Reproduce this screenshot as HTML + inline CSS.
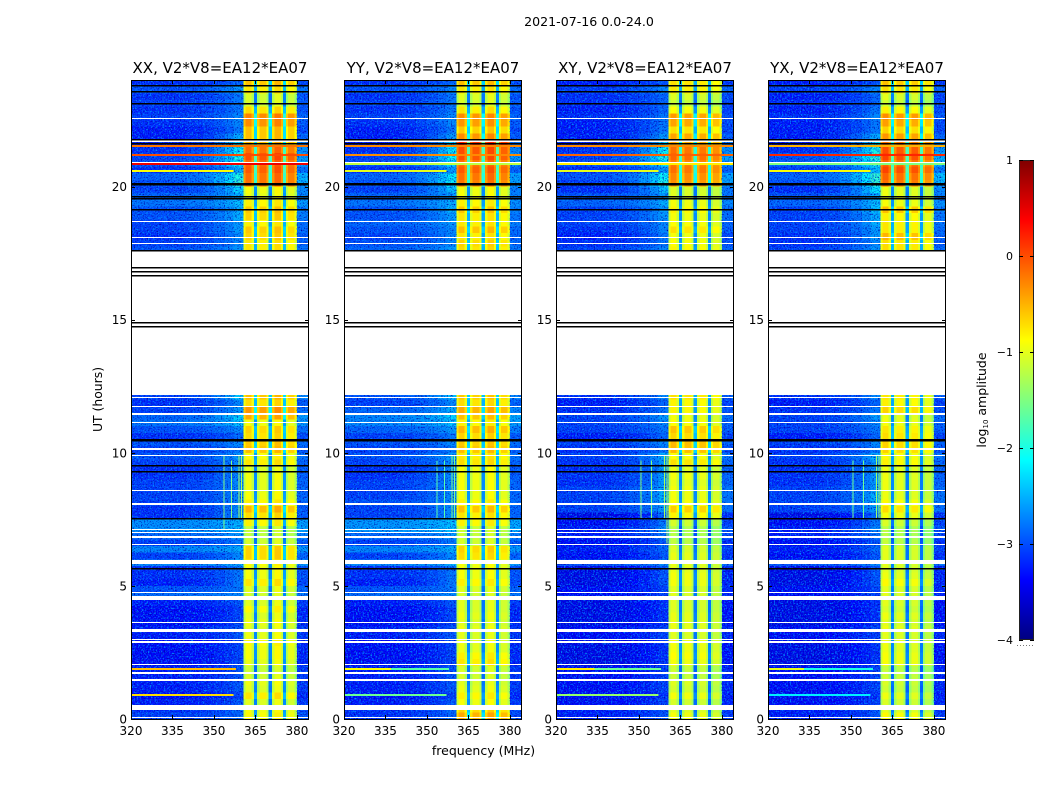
<!DOCTYPE html>
<html lang="en">
<head>
<meta charset="utf-8">
<title>2021-07-16 spectrogram</title>
<style>
html,body{margin:0;padding:0;background:#fff;width:1050px;height:800px;overflow:hidden}
svg{display:block}
text{font-family:"DejaVu Sans","Liberation Sans",sans-serif;fill:#000}
</style>
</head>
<body>
<svg id="figure" xmlns="http://www.w3.org/2000/svg" width="1050" height="800" viewBox="0 0 1050 800">
  <defs>
    <filter id="speckle" x="0" y="0" width="100%" height="100%" color-interpolation-filters="sRGB">
      <feTurbulence type="fractalNoise" baseFrequency="0.62" numOctaves="2" seed="4"/>
      <feColorMatrix type="matrix" values="0 0 0 0 0  0 0 0 0 0.55  0 0 0 0 1  3.4 0 0 0 -1.6"/>
    </filter>
    <filter id="speckle-dark" x="0" y="0" width="100%" height="100%" color-interpolation-filters="sRGB">
      <feTurbulence type="fractalNoise" baseFrequency="0.7" numOctaves="2" seed="11"/>
      <feColorMatrix type="matrix" values="0 0 0 0 0  0 0 0 0 0  0 0 0 0 0.65  3.4 0 0 0 -1.8"/>
    </filter>
  </defs>
  <text x="589" y="26" font-size="12.6" text-anchor="middle">2021-07-16 0.0-24.0</text>
  <text x="102" y="399.5" font-size="12.4" text-anchor="middle" transform="rotate(-90 102 399.5)">UT (hours)</text>
  <text x="483.5" y="755" font-size="12.5" text-anchor="middle">frequency (MHz)</text>
  <text x="986" y="400" font-size="12.5" text-anchor="middle" transform="rotate(-90 986 400)">log<tspan font-size="7" dy="2">10</tspan><tspan dy="-2"> amplitude</tspan></text>
  <g id="panels"></g>
  <g id="colorbar"></g>
</svg>
<script>
// ---- categories: start hour of each time row (UT) ----
const rowHours = [
0,0.25,0.5,0.75, 1,1.25,1.5,1.75, 2,2.25,2.5,2.75, 3,3.25,3.5,3.75,
4,4.25,4.5,4.75, 5,5.25,5.5,5.75, 6,6.25,6.5,6.75, 7,7.25,7.5,7.75,
8,8.25,8.5,8.75, 9,9.25,9.5,9.75, 10,10.25,10.5,10.75, 11,11.25,11.5,11.75, 12,
17.5,17.75, 18,18.25,18.5,18.75, 19,19.25,19.5,19.75,
20,20.25,20.5,20.75, 21,21.25,21.5,21.75, 22,22.25,22.5,22.75, 23,23.25,23.5,23.75];
const rowSpanHours = 0.25;

// ---- frequency categories (MHz) ----
const freqMin = 320;
const freqMax = 384;
const bgEdges = [320,340,346,350,354,357,360.6];
const bgNearWeight = [0,0.1,0.25,0.45,0.7,1];
const rightStrip = [380,384];
const rightStripWeight = 0.5;
const bandEdges = [360.6,361.4,363.6,364.4,365.6,366.4,369.0,369.8,371.0,371.8,374.2,375.0,376.0,376.8,379.2,380];
const bandProfile = [-0.45,-0.2,-0.45,-1.95,-0.45,-0.2,-0.45,-1.95,-0.45,-0.2,-0.45,-1.95,-0.45,-0.2,-0.45];

// ---- tick labels ----
const xTicks = [320,335,350,365,380];
const yTicks = [0,5,10,15,20];
const colorTicks = [1,0,-1,-2,-3,-4];
const colorTickLabels = ["1","0","\u22121","\u22122","\u22123","\u22124"];
const panelNames = ["XX","YY","XY","YX"];
const baselineName = "V2*V8=EA12*EA07";

// ---- series: far-band background level, log10 amplitude per time row ----
const farXX = [
-3.1,-3.2,-3.3,-3.4, -3.3,-3.3,-3.3,-3.3, -3.4,-3.4,-3.4,-3.4, -3.3,-3.3,-3.4,-3.4,
-3.4,-3.3,-2.85,-3.0, -3.3,-3.2,-3.2,-2.7, -3.1,-2.7,-3.1,-2.85, -2.65,-2.65,-3.2,-3.2,
-3.1,-3.1,-3.1,-3.1, -3.2,-3.2,-3.1,-3.0, -3.1,-3.0,-3.2,-3.0, -2.8,-2.9,-3.1,-3.2, -3.1,
-3.0,-3.1, -3.2,-3.1,-3.1,-3.0, -3.0,-2.8,-2.9,-3.1,
-3.0,-2.9,-3.2,-3.0, -3.1,-3.2,-3.3,-3.3, -3.3,-3.2,-3.1,-3.2, -3.1,-3.2,-3.0,-3.2];
const farYY = [
-3.2,-3.2,-3.3,-3.4, -3.3,-3.3,-3.3,-3.3, -3.4,-3.4,-3.4,-3.4, -3.3,-3.3,-3.4,-3.4,
-3.4,-3.3,-2.85,-3.0, -3.3,-3.2,-3.2,-2.7, -3.1,-2.7,-3.1,-2.85, -2.6,-2.6,-3.1,-3.1,
-3.0,-3.1,-3.1,-3.1, -3.2,-3.2,-3.1,-3.0, -3.1,-3.0,-3.1,-2.9, -2.7,-2.7,-2.9,-3.1, -3.0,
-2.9,-3.0, -3.1,-3.0,-2.9,-3.0, -3.0,-2.8,-2.9,-3.1,
-3.0,-2.9,-3.2,-3.0, -3.1,-3.2,-3.3,-3.3, -3.3,-3.2,-3.1,-3.2, -3.1,-3.2,-3.0,-3.2];
const farXY = [
-3.3,-3.3,-3.4,-3.4, -3.4,-3.4,-3.4,-3.4, -3.5,-3.5,-3.5,-3.5, -3.4,-3.4,-3.5,-3.5,
-3.5,-3.5,-3.4,-3.4, -3.5,-3.5,-3.5,-3.0, -3.4,-3.3,-3.4,-3.3, -3.3,-3.4,-3.5,-3.1,
-3.1,-3.1,-3.1,-3.2, -3.2,-3.2,-3.2,-3.1, -3.2,-3.1,-3.3,-3.1, -3.1,-3.1,-3.2,-3.3, -3.2,
-3.1,-3.2, -3.3,-3.2,-3.1,-3.1, -3.1,-2.9,-3.0,-3.2,
-3.1,-3.0,-3.2,-3.0, -3.1,-3.2,-3.3,-3.3, -3.3,-3.3,-3.2,-3.3, -3.2,-3.2,-3.1,-3.3];
const farYX = [
-3.3,-3.3,-3.4,-3.4, -3.4,-3.4,-3.4,-3.4, -3.5,-3.5,-3.5,-3.5, -3.4,-3.4,-3.5,-3.5,
-3.5,-3.5,-3.4,-3.4, -3.5,-3.5,-3.5,-3.0, -3.4,-3.3,-3.4,-3.3, -3.3,-3.4,-3.5,-3.1,
-3.1,-3.1,-3.1,-3.2, -3.2,-3.2,-3.2,-3.1, -3.2,-3.1,-3.3,-3.1, -3.1,-3.1,-3.2,-3.3, -3.2,
-3.1,-3.2, -3.2,-3.1,-3.1,-3.1, -3.1,-2.9,-3.0,-3.2,
-3.0,-2.9,-3.1,-2.9, -3.0,-3.2,-3.3,-3.3, -3.3,-3.3,-3.2,-3.3, -3.2,-3.3,-3.1,-3.3];

// ---- series: background level just below the band edge ----
const nearXX = [
-2.9,-2.9,-3.0,-3.1, -3.0,-3.0,-3.0,-3.0, -3.1,-3.1,-3.1,-3.1, -3.0,-3.0,-3.1,-3.1,
-3.1,-3.0,-2.7,-2.8, -2.8,-2.8,-2.8,-2.5, -2.7,-2.5,-2.8,-2.6, -2.45,-2.45,-2.7,-2.7,
-2.7,-2.7,-2.7,-2.7, -2.7,-2.7,-2.7,-2.6, -2.8,-2.7,-2.9,-2.7, -2.4,-2.3,-2.6,-2.7, -2.3,
-2.6,-2.7, -2.7,-2.6,-2.6,-2.5, -2.5,-2.4,-2.5,-2.3,
-1.9,-2.0,-2.5,-2.1, -2.0,-2.1,-2.2,-2.5, -2.8,-2.7,-2.7,-2.8, -2.8,-2.8,-2.6,-2.9];
const nearYY = [
-2.9,-2.9,-3.0,-3.1, -3.0,-3.0,-3.0,-3.0, -3.1,-3.1,-3.1,-3.1, -3.0,-3.0,-3.1,-3.1,
-3.1,-3.0,-2.7,-2.8, -2.8,-2.8,-2.8,-2.5, -2.7,-2.5,-2.8,-2.6, -2.4,-2.4,-2.7,-2.7,
-2.7,-2.7,-2.7,-2.7, -2.7,-2.7,-2.7,-2.6, -2.8,-2.7,-2.8,-2.6, -2.4,-2.3,-2.5,-2.7, -2.4,
-2.6,-2.7, -2.7,-2.7,-2.6,-2.6, -2.5,-2.5,-2.6,-2.4,
-2.1,-2.2,-2.6,-2.3, -2.1,-2.2,-2.3,-2.6, -2.8,-2.7,-2.7,-2.8, -2.8,-2.8,-2.7,-2.9];
const nearXY = [
-3.0,-3.0,-3.1,-3.2, -3.1,-3.1,-3.1,-3.1, -3.2,-3.2,-3.2,-3.2, -3.1,-3.1,-3.2,-3.2,
-3.2,-3.2,-3.1,-3.1, -3.0,-3.0,-3.0,-2.7, -3.0,-2.9,-3.0,-2.8, -2.7,-2.8,-2.9,-2.6,
-2.5,-2.5,-2.5,-2.6, -2.6,-2.6,-2.6,-2.5, -2.8,-2.7,-2.9,-2.8, -2.7,-2.6,-2.8,-2.9, -2.7,
-2.7,-2.8, -2.8,-2.7,-2.7,-2.6, -2.6,-2.5,-2.6,-2.4,
-2.0,-2.1,-2.6,-2.2, -2.0,-2.1,-2.3,-2.6, -2.8,-2.8,-2.8,-2.9, -2.9,-2.9,-2.7,-3.0];
const nearYX = [
-3.0,-3.0,-3.1,-3.2, -3.1,-3.1,-3.1,-3.1, -3.2,-3.2,-3.2,-3.2, -3.1,-3.1,-3.2,-3.2,
-3.2,-3.2,-3.1,-3.1, -3.0,-3.0,-3.0,-2.7, -3.0,-2.9,-3.0,-2.8, -2.7,-2.8,-2.9,-2.6,
-2.5,-2.5,-2.6,-2.6, -2.6,-2.6,-2.6,-2.5, -2.8,-2.7,-2.9,-2.8, -2.7,-2.6,-2.8,-2.9, -2.7,
-2.6,-2.7, -2.6,-2.6,-2.5,-2.5, -2.4,-2.4,-2.5,-2.2,
-1.9,-1.9,-2.4,-2.0, -1.9,-2.0,-2.1,-2.5, -2.8,-2.8,-2.7,-2.8, -2.9,-2.9,-2.7,-3.0];

// ---- series: band (361-380 MHz) level ----
const bandXX = [
-0.65,-0.7,-0.8,-0.55, -0.8,-0.75,-0.85,-0.9, -0.75,-0.7,-0.7,-0.65, -0.75,-0.8,-0.75,-0.8,
-0.65,-0.8,-0.85,-0.8, -0.55,-0.7,-0.7,-0.65, -0.45,-0.45,-0.85,-0.95, -0.95,-0.6,-0.5,-0.3,
-0.6,-0.7,-0.75,-0.75, -0.75,-0.8,-0.55,-0.65, -0.35,-0.4,-0.5,-0.45, -0.7,-0.25,-0.15,-0.5, -0.35,
-0.55,-0.55, -0.45,-0.4,-0.6,-0.45, -0.4,-0.6,-0.75,-0.7,
0.05,0.05,0.15,0.1, 0.2,0.05,-0.3,-0.35, -0.35,-0.1,-0.05,-0.5, -0.85,-0.85,-0.55,-0.35];
const bandYY = [
-0.25,-0.45,-0.7,-0.6, -0.75,-0.8,-0.85,-0.85, -0.55,-0.6,-0.75,-0.75, -0.8,-0.75,-0.8,-0.75,
-0.8,-0.8,-0.85,-0.8, -0.6,-0.7,-0.7,-0.7, -0.5,-0.45,-0.85,-0.9, -0.9,-0.6,-0.55,-0.35,
-0.6,-0.7,-0.7,-0.7, -0.7,-0.7,-0.5,-0.55, -0.35,-0.4,-0.45,-0.3, -0.6,-0.35,-0.25,-0.5, -0.4,
-0.5,-0.45, -0.55,-0.35,-0.55,-0.55, -0.4,-0.6,-0.7,-0.7,
0.0,0.05,0.15,0.05, 0.2,0.2,0.4,-0.1, -0.4,-0.15,-0.1,-0.55, -0.85,-0.8,-0.55,-0.35];
const bandXY = [
-0.75,-0.85,-0.9,-0.75, -0.9,-0.85,-0.95,-0.95, -0.75,-0.7,-0.75,-0.75, -0.85,-0.8,-0.8,-0.8,
-0.85,-0.85,-0.85,-0.85, -0.75,-0.75,-0.8,-0.8, -0.8,-0.85,-1.0,-1.05, -1.05,-0.9,-0.65,-0.45,
-0.7,-0.75,-0.75,-0.8, -0.75,-0.8,-0.55,-0.7, -0.35,-0.35,-0.5,-0.4, -0.7,-0.75,-0.65,-0.65, -0.55,
-0.65,-0.7, -0.75,-0.55,-0.7,-0.75, -0.65,-0.75,-0.85,-0.85,
-0.15,-0.1,0.0,-0.05, 0.05,0.0,-0.25,-0.25, -0.55,-0.25,-0.2,-0.7, -0.95,-0.85,-0.6,-0.55];
const bandYX = [
-0.7,-0.85,-0.9,-0.8, -0.95,-0.9,-0.95,-1.0, -0.75,-0.75,-0.8,-0.8, -0.85,-0.8,-0.85,-0.8,
-0.9,-0.85,-0.85,-0.85, -0.7,-0.8,-0.85,-0.85, -0.85,-0.85,-1.0,-1.05, -1.05,-0.9,-0.75,-0.55,
-0.7,-0.8,-0.8,-0.8, -0.8,-0.8,-0.65,-0.7, -0.5,-0.5,-0.55,-0.6, -0.75,-0.8,-0.5,-0.65, -0.6,
-0.55,-0.55, -0.35,-0.6,-0.6,-0.65, -0.4,-0.75,-0.8,-0.8,
0.0,0.05,0.2,0.05, 0.2,0.15,0.0,-0.2, -0.5,-0.25,-0.15,-0.65, -0.95,-0.85,-0.55,-0.4];

// ---- series: relative level of the four sub-bands ----
const subbandXX = [0,-0.05,0.05,-0.1];
const subbandYY = [0,-0.05,0.03,-0.1];
const subbandXY = [0.03,0,-0.02,-0.12];
const subbandYX = [0.05,0,-0.02,-0.15];

// ---- series: narrow interference lines [hour, log10 amplitude, start MHz, end MHz] ----
const rfiXX = [[1.89,-0.55,320,358],[0.89,-0.7,320,357],[20.85,0.45,320,384],[21.18,0.0,320,384],[21.52,-0.2,320,384],[20.58,-0.9,320,357]];
const rfiYY = [[1.89,-0.9,320,337],[1.89,-1.7,337,358],[0.89,-1.6,320,357],[20.85,-1.2,320,384],[21.18,-0.3,320,384],[21.52,-0.3,320,384],[20.58,-1.0,320,357]];
const rfiXY = [[1.89,-0.8,320,334],[1.89,-1.6,334,358],[0.89,-1.4,320,357],[20.85,-0.8,320,384],[21.18,-0.1,320,384],[21.52,-0.3,320,384],[20.58,-1.0,320,357]];
const rfiYX = [[1.89,-1.0,320,333],[1.89,-2.0,333,358],[0.89,-2.2,320,357],[20.85,-1.5,320,384],[21.18,0.2,320,384],[21.52,-0.5,320,384],[20.58,-0.9,320,357]];

// ---- series: vertical interference channels [MHz, log10 amplitude, start hour, end hour] ----
const channelRfiXX = [[353.4,-1.5,7.1,9.9],[356.1,-1.5,7.5,9.7],[358.8,-1.3,7.5,9.9],[359.7,-1.3,7.5,9.9]];
const channelRfiYY = [[353.4,-1.7,7.5,9.7],[356.1,-1.7,7.5,9.7],[358.8,-1.5,7.5,9.9],[359.7,-1.5,7.5,9.9]];
const channelRfiXY = [[350.5,-1.5,7.5,9.7],[354.3,-1.5,7.5,9.7],[359.0,-1.3,7.5,9.9],[360.0,-1.3,6.6,9.9]];
const channelRfiYX = [[350.5,-1.6,7.5,9.7],[354.3,-1.6,7.5,9.7],[359.0,-1.4,7.5,9.9],[360.0,-1.4,7.5,9.9]];

// ---- flagged data ----
const flaggedHours = [[12.17,17.6],
[0.04,0.09],[0.34,0.53],[1.43,1.52],[1.70,1.75],[2.02,2.07],[2.87,2.92],[2.97,3.02],[3.27,3.37],[3.61,3.66],
[4.47,4.63],[4.72,4.77],[5.82,5.97],[6.54,6.59],[6.81,6.86],[6.99,7.04],[7.09,7.14],[8.05,8.10],[8.55,8.60],
[9.87,9.91],[10.11,10.16],[11.10,11.15],[11.40,11.44],[11.46,11.50],[11.72,11.77],[12.06,12.10],
[17.84,17.89],[18.07,18.12],[18.67,18.72],[20.87,20.92],[21.67,21.76],[22.53,22.58]];
const zeroLineHours = [5.66,7.54,9.30,9.55,10.48,10.53,14.75,14.9,16.67,16.82,16.97,17.6,19.14,19.56,19.65,20.08,20.13,21.63,21.78,23.14,23.58,23.8];

const colorMin = -4;
const colorMax = 1;

// ---- layout ----
const panelLeft = [131,344,556,768];
const panelWidth = 177;
const plotTop = 80;
const plotBottom = 719;
const barLeft = 1019, barRight = 1034, barTop = 160, barBottom = 640;

const panelSeries = [
 {far:farXX,near:nearXX,band:bandXX,sub:subbandXX,rfi:rfiXX,chan:channelRfiXX},
 {far:farYY,near:nearYY,band:bandYY,sub:subbandYY,rfi:rfiYY,chan:channelRfiYY},
 {far:farXY,near:nearXY,band:bandXY,sub:subbandXY,rfi:rfiXY,chan:channelRfiXY},
 {far:farYX,near:nearYX,band:bandYX,sub:subbandYX,rfi:rfiYX,chan:channelRfiYX}
];

const NS = "http://www.w3.org/2000/svg";
function clip01(v){return Math.max(0,Math.min(1,v));}
function jet(value){
  const t = clip01((value-colorMin)/(colorMax-colorMin));
  const r = Math.round(255*clip01(1.5-Math.abs(4*t-3)));
  const g = Math.round(255*clip01(1.5-Math.abs(4*t-2)));
  const b = Math.round(255*clip01(1.5-Math.abs(4*t-1)));
  return "rgb("+r+","+g+","+b+")";
}
function yScale(hour){return plotBottom-(hour/24)*(plotBottom-plotTop);}
function xScale(left,mhz){return left+(mhz-freqMin)/(freqMax-freqMin)*panelWidth;}
function colorScale(value){return barBottom-(value-colorMin)/(colorMax-colorMin)*(barBottom-barTop);}
function make(tag,parent,attrs,txt){
  const el = document.createElementNS(NS,tag);
  for(const k in attrs){el.setAttribute(k,attrs[k]);}
  if(txt!==undefined){el.textContent=txt;}
  parent.appendChild(el);
  return el;
}
function cell(parent,x0,x1,y0,y1,fill){
  const el = make("rect",parent,{x:x0,y:y0,width:Math.max(x1-x0,0.5),height:Math.max(y1-y0,0.5),fill:fill,"shape-rendering":"crispEdges"});
  
  
  return el;
}

const panelsRoot = document.getElementById("panels");
panelNames.forEach(function(name,p){
  const left = panelLeft[p];
  const s = panelSeries[p];
  const right = left+panelWidth;
  const g = make("g",panelsRoot,{});
  
  
  const cells = make("g",g,{});
  
  

  rowHours.forEach(function(h,r){
    const yTop = yScale(h+rowSpanHours), yBot = yScale(h);
    for(let c=0;c<bgNearWeight.length;c++){
      const w = bgNearWeight[c];
      const v = s.far[r]*(1-w)+s.near[r]*w;
      cell(cells,xScale(left,bgEdges[c]),xScale(left,bgEdges[c+1]),yTop,yBot,jet(v));
    }
    const vr = s.far[r]*(1-rightStripWeight)+s.near[r]*rightStripWeight;
    cell(cells,xScale(left,rightStrip[0]),xScale(left,rightStrip[1]),yTop,yBot,jet(vr));
    for(let c=0;c<bandProfile.length;c++){
      const sb = Math.min(3,Math.floor(c/4));
      const v = s.band[r]+s.sub[sb]+bandProfile[c];
      cell(cells,xScale(left,bandEdges[c]),xScale(left,bandEdges[c+1]),yTop,yBot,jet(v));
    }
  });

  // receiver noise texture over the out-of-band background
  [[freqMin,bgEdges[bgEdges.length-1]],rightStrip].forEach(function(span){
    const n1 = make("rect",g,{x:xScale(left,span[0]),y:plotTop,width:xScale(left,span[1])-xScale(left,span[0]),height:plotBottom-plotTop,filter:"url(#speckle)"});
    
    
    const n2 = make("rect",g,{x:xScale(left,span[0]),y:plotTop,width:xScale(left,span[1])-xScale(left,span[0]),height:plotBottom-plotTop,filter:"url(#speckle-dark)"});
    
    
  });

  s.chan.forEach(function(c){
    const el = make("rect",g,{x:xScale(left,c[0]),y:yScale(c[3]),width:1,height:yScale(c[2])-yScale(c[3]),fill:jet(c[1]),"shape-rendering":"crispEdges"});
    
    
  });
  s.rfi.forEach(function(l){
    const el = make("rect",g,{x:xScale(left,l[2]),y:Math.round(yScale(l[0]))-1,width:xScale(left,l[3])-xScale(left,l[2]),height:2,fill:jet(l[1]),"shape-rendering":"crispEdges"});
    
    
  });
  flaggedHours.forEach(function(f){
    const y0 = Math.round(yScale(f[1]));
    const y1 = Math.max(y0+1,Math.round(yScale(f[0])));
    const el = make("rect",g,{x:left,y:y0,width:panelWidth+1,height:y1-y0,fill:"#fff","shape-rendering":"crispEdges"});
    
    
  });
  zeroLineHours.forEach(function(h){
    const el = make("rect",g,{x:left,y:Math.round(yScale(h)),width:panelWidth+1,height:1.5,fill:"#000"});
    
    
  });

  const frame = make("rect",g,{x:left+0.5,y:plotTop+0.5,width:panelWidth,height:plotBottom-plotTop,fill:"none",stroke:"#000","stroke-width":1,"shape-rendering":"crispEdges"});
  
  

  xTicks.forEach(function(t){
    const x = Math.round(xScale(left,t))+0.5;
    const tk = make("path",g,{d:"M"+x+" "+plotBottom+"v-4M"+x+" "+plotTop+"v4",stroke:"#000","stroke-width":1,fill:"none"});
    
    
    const lb = make("text",g,{x:xScale(left,t),y:plotBottom+16,"font-size":12,"text-anchor":"middle"},String(t));
    
    
  });
  yTicks.forEach(function(t){
    const y = Math.round(yScale(t))+0.5;
    const tk = make("path",g,{d:"M"+left+" "+y+"h4M"+(right+1)+" "+y+"h-4",stroke:"#000","stroke-width":1,fill:"none"});
    
    
    const lb = make("text",g,{x:left-4,y:yScale(t)+4.5,"font-size":12,"text-anchor":"end"},String(t));
    
    
  });
  const title = make("text",g,{x:left+panelWidth/2+0.5,y:plotTop-7,"font-size":15,"text-anchor":"middle"},name+", "+baselineName);
  
  
});

// colorbar
const barRoot = document.getElementById("colorbar");
for(let y=barTop;y<barBottom;y++){
  const v = colorMax-(y+0.5-barTop)/(barBottom-barTop)*(colorMax-colorMin);
  const el = make("rect",barRoot,{x:barLeft,y:y,width:barRight-barLeft,height:1,fill:jet(v),"shape-rendering":"crispEdges"});
  
  
}
const barFrame = make("rect",barRoot,{x:barLeft+0.5,y:barTop+0.5,width:barRight-barLeft-1,height:barBottom-barTop-1,fill:"none",stroke:"#222","stroke-width":1,"shape-rendering":"crispEdges"});


colorTicks.forEach(function(t,i){
  const y = colorScale(t);
  const tk = make("path",barRoot,{d:"M"+barLeft+" "+(y+0.5)+"h4M"+barRight+" "+(y+0.5)+"h-4",stroke:"#000","stroke-width":1,fill:"none"});
  
  
  const lb = make("text",barRoot,{x:barLeft-6,y:y+4,"font-size":11,"text-anchor":"end"},colorTickLabels[i]);
  
  
});
const dots = make("path",barRoot,{d:"M1017 645.5H1034",stroke:"#777","stroke-width":1,"stroke-dasharray":"1 2",fill:"none"});


</script>
</body>
</html>
